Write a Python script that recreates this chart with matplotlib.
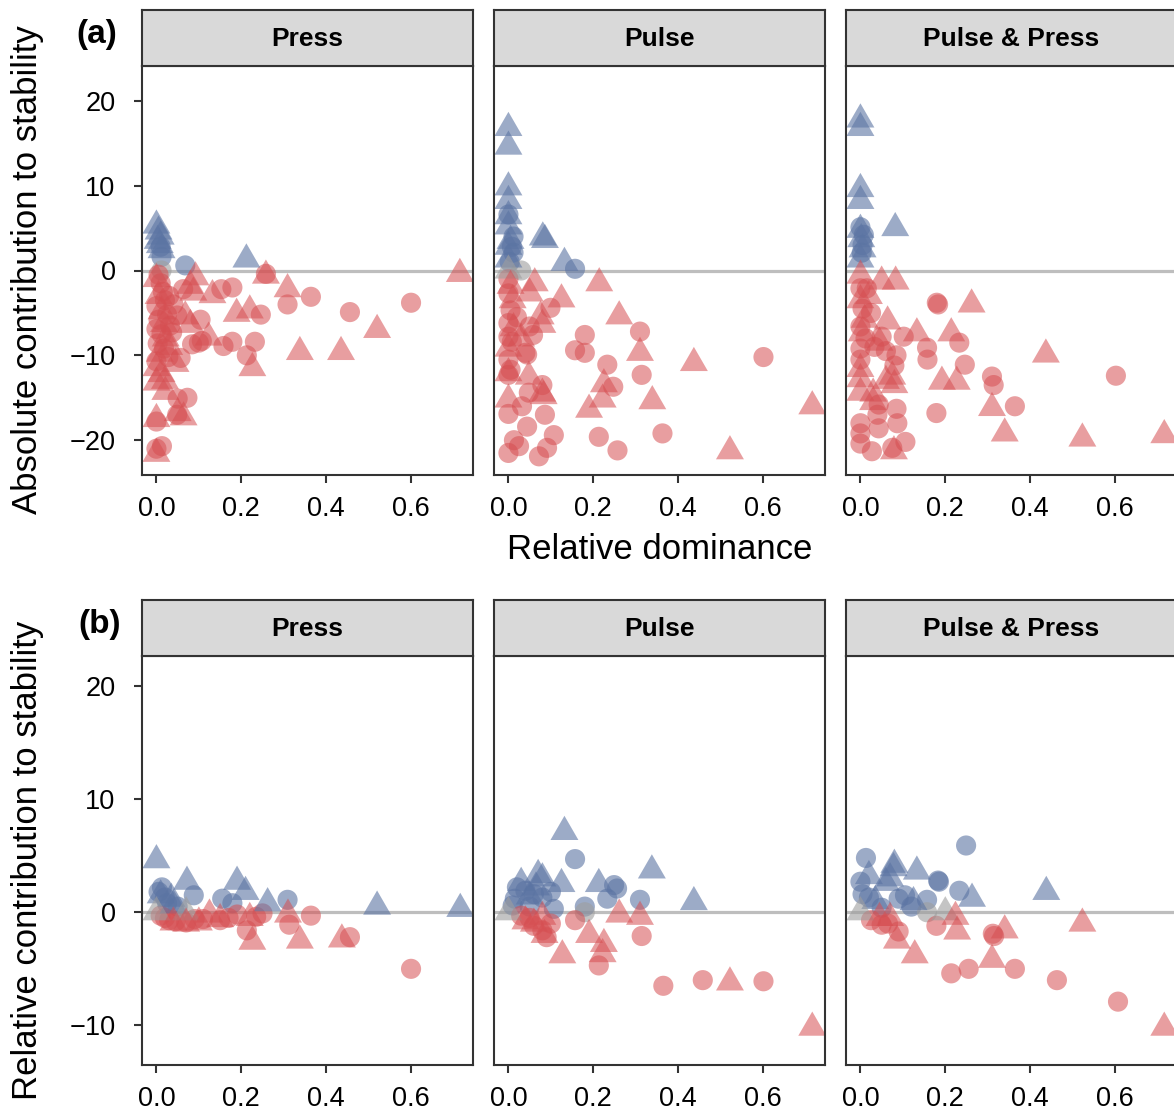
import numpy as np
import matplotlib
matplotlib.use("Agg")
import matplotlib.pyplot as plt

plt.rcParams['font.family'] = ['Liberation Sans', 'DejaVu Sans']

# facets
treatments = ['Press', 'Pulse', 'Pulse & Press']

# (relative dominance, contribution, shape)  c = circle, t = triangle
press_abs = [
    (0.000, 5.3, 't'), (0.005, 4.6, 't'), (0.010, 4.0, 't'), (0.003, 3.5, 't'), (0.008, 3.0, 't'),
    (0.012, 2.4, 't'), (0.010, 2.8, 'c'), (0.012, 1.6, 'c'), (0.068, 0.6, 'c'), (0.212, 1.3, 't'),
    (0.012, 0.0, 'c'),
    (0.715, -0.4, 't'), (0.600, -3.8, 'c'), (0.520, -7.0, 't'), (0.435, -9.6, 't'), (0.338, -9.6, 't'),
    (0.456, -4.9, 'c'), (0.364, -3.1, 'c'), (0.309, -4.0, 'c'), (0.309, -2.2, 't'), (0.258, -0.6, 't'),
    (0.258, -0.4, 'c'), (0.246, -5.2, 'c'), (0.226, -11.5, 't'), (0.213, -10.0, 'c'), (0.232, -8.4, 'c'),
    (0.220, -4.7, 't'), (0.189, -5.1, 't'), (0.179, -8.4, 'c'), (0.158, -8.9, 'c'), (0.179, -2.0, 'c'),
    (0.153, -2.2, 'c'), (0.132, -2.9, 't'), (0.104, -5.8, 'c'), (0.123, -7.9, 't'), (0.100, -8.5, 'c'),
    (0.057, -10.3, 'c'), (0.073, -15.0, 'c'), (0.050, -15.1, 'c'), (0.064, -17.3, 't'), (0.050, -16.8, 't'),
    (0.049, -17.0, 'c'), (0.021, -14.3, 't'), (0.020, -13.0, 't'), (0.000, -17.8, 'c'), (0.000, -17.5, 't'),
    (0.013, -20.7, 'c'), (0.000, -21.0, 'c'), (0.000, -21.6, 't'), (0.000, -13.2, 't'), (0.000, -10.7, 'c'),
    (0.063, -2.2, 'c'), (0.092, -0.8, 't'), (0.080, -1.8, 't'), (0.087, -2.6, 't'), (0.068, -5.4, 't'),
    (0.080, -6.4, 't'), (0.049, -5.3, 'c'), (0.037, -7.3, 'c'), (0.084, -8.7, 'c'), (0.107, -8.3, 'c'),
    (0.005, -0.5, 'c'), (0.010, -1.5, 'c'), (0.000, -1.0, 't'), (0.015, -2.5, 'c'), (0.005, -3.0, 't'),
    (0.020, -3.5, 'c'), (0.000, -4.2, 'c'), (0.012, -4.8, 't'), (0.025, -5.2, 'c'), (0.005, -5.8, 'c'),
    (0.018, -6.3, 't'), (0.000, -6.9, 'c'), (0.012, -7.5, 'c'), (0.022, -8.0, 't'), (0.003, -8.6, 'c'),
    (0.018, -9.2, 'c'), (0.008, -9.8, 't'), (0.028, -10.2, 'c'), (0.000, -11.5, 't'), (0.012, -12.2, 't'),
    (0.030, -3.0, 'c'), (0.032, -6.5, 'c'), (0.030, -9.0, 't'), (0.040, -4.0, 'c'), (0.045, -11.0, 't'),
]

pulse_abs = [
    (0.000, 16.8, 't'), (0.000, 14.6, 't'), (0.000, 9.8, 't'), (0.000, 8.2, 't'), (0.000, 6.4, 't'),
    (0.000, 5.2, 't'), (0.000, 6.6, 'c'), (0.012, 4.0, 'c'), (0.008, 2.8, 'c'), (0.012, 2.1, 'c'),
    (0.000, 2.8, 't'), (0.000, 1.3, 't'), (0.005, 3.5, 't'), (0.003, 1.0, 'c'), (0.081, 3.9, 't'),
    (0.086, 3.6, 't'), (0.132, 0.9, 't'), (0.157, 0.2, 'c'),
    (0.000, 0.0, 't'), (0.030, 0.0, 'c'),
    (0.214, -1.5, 't'), (0.261, -5.4, 't'), (0.310, -7.2, 'c'), (0.310, -9.7, 't'), (0.314, -12.3, 'c'),
    (0.437, -10.9, 't'), (0.601, -10.2, 'c'), (0.716, -16.0, 't'), (0.522, -21.3, 't'), (0.363, -19.2, 'c'),
    (0.339, -15.4, 't'), (0.257, -21.2, 'c'), (0.213, -19.6, 'c'), (0.190, -16.4, 't'), (0.222, -15.2, 't'),
    (0.247, -13.7, 'c'), (0.225, -13.4, 't'), (0.233, -11.1, 'c'), (0.180, -7.6, 'c'), (0.180, -9.7, 'c'),
    (0.157, -9.4, 'c'), (0.099, -4.4, 'c'), (0.125, -3.4, 't'), (0.062, -1.5, 't'), (0.050, -2.7, 't'),
    (0.076, -5.4, 't'), (0.080, -6.4, 't'), (0.050, -6.6, 'c'), (0.058, -7.6, 'c'), (0.044, -9.9, 'c'),
    (0.048, -12.5, 't'), (0.080, -13.5, 'c'), (0.080, -14.5, 't'), (0.083, -14.8, 't'), (0.048, -14.4, 'c'),
    (0.086, -17.0, 'c'), (0.032, -16.0, 'c'), (0.000, -15.2, 't'), (0.000, -16.9, 'c'), (0.044, -18.4, 'c'),
    (0.107, -19.4, 'c'), (0.013, -20.0, 'c'), (0.025, -20.7, 'c'), (0.000, -21.5, 'c'), (0.091, -20.9, 'c'),
    (0.072, -21.9, 'c'), (0.000, -1.0, 'c'), (0.005, -1.8, 't'), (0.000, -2.7, 'c'), (0.010, -3.5, 't'),
    (0.005, -4.7, 'c'), (0.000, -6.2, 'c'), (0.012, -6.8, 't'), (0.000, -7.8, 'c'), (0.008, -8.4, 'c'),
    (0.000, -9.2, 't'), (0.000, -10.5, 'c'), (0.005, -11.7, 'c'), (0.000, -12.3, 'c'), (0.000, -12.1, 't'),
    (0.040, -9.7, 'c'), (0.020, -5.5, 'c'), (0.030, -8.0, 't'),
]

both_abs = [
    (0.000, 17.8, 't'), (0.000, 16.8, 't'), (0.000, 9.6, 't'), (0.000, 8.2, 't'), (0.000, 4.8, 't'),
    (0.000, 5.1, 'c'), (0.002, 3.7, 't'), (0.005, 3.0, 'c'), (0.003, 2.1, 'c'), (0.000, 1.3, 't'),
    (0.008, 4.2, 'c'), (0.005, 2.5, 't'), (0.082, 5.0, 't'),
    (0.000, -0.6, 't'), (0.050, -1.3, 't'), (0.083, -1.3, 't'), (0.000, -2.1, 'c'), (0.015, -2.1, 'c'),
    (0.183, -4.0, 'c'), (0.180, -3.8, 'c'), (0.262, -4.0, 't'), (0.214, -7.4, 't'), (0.233, -8.5, 'c'),
    (0.133, -7.4, 't'), (0.102, -7.8, 'c'), (0.157, -9.1, 'c'), (0.158, -10.5, 'c'), (0.246, -11.1, 'c'),
    (0.064, -6.0, 't'), (0.050, -7.8, 'c'), (0.192, -13.1, 't'), (0.227, -13.1, 't'), (0.310, -12.5, 'c'),
    (0.314, -13.5, 'c'), (0.437, -9.9, 't'), (0.602, -12.4, 'c'), (0.716, -19.4, 't'), (0.523, -19.8, 't'),
    (0.340, -19.2, 't'), (0.310, -16.2, 't'), (0.364, -16.0, 'c'), (0.179, -16.8, 'c'), (0.106, -20.2, 'c'),
    (0.079, -21.3, 't'), (0.075, -20.9, 'c'), (0.027, -21.3, 'c'), (0.000, -20.4, 'c'), (0.000, -19.2, 'c'),
    (0.000, -18.0, 'c'), (0.043, -18.6, 'c'), (0.087, -18.0, 'c'), (0.085, -16.3, 'c'), (0.043, -15.8, 'c'),
    (0.000, -14.4, 't'), (0.000, -12.8, 't'), (0.000, -11.6, 't'), (0.000, -10.5, 'c'), (0.000, -9.2, 'c'),
    (0.033, -9.0, 'c'), (0.085, -10.0, 'c'), (0.080, -11.2, 'c'), (0.075, -12.5, 't'), (0.080, -13.5, 't'),
    (0.060, -13.0, 't'), (0.000, -3.5, 't'), (0.005, -4.5, 'c'), (0.010, -5.8, 't'), (0.000, -6.6, 'c'),
    (0.003, -7.4, 't'), (0.012, -8.0, 'c'), (0.020, -3.0, 't'), (0.025, -5.0, 'c'), (0.030, -14.5, 't'),
    (0.040, -17.0, 'c'), (0.030, -15.5, 't'), (0.045, -8.5, 't'), (0.060, -9.5, 'c'),
]

press_rel = [
    (0.000, 4.6, 't'), (0.013, 2.2, 'c'), (0.072, 2.7, 't'), (0.088, 1.5, 'c'), (0.190, 2.7, 't'),
    (0.210, 1.8, 't'), (0.155, 1.2, 'c'), (0.179, 0.8, 'c'), (0.262, 0.8, 't'), (0.309, 1.1, 'c'),
    (0.520, 0.5, 't'), (0.716, 0.3, 't'), (0.010, 1.5, 't'), (0.035, 1.2, 't'), (0.040, 0.6, 't'),
    (0.025, 0.8, 'c'), (0.050, 0.5, 'c'), (0.005, 1.8, 'c'), (0.020, 1.3, 'c'),
    (0.000, 0.0, 't'), (0.070, 0.0, 't'),
    (0.600, -5.0, 'c'), (0.456, -2.2, 'c'), (0.437, -2.4, 't'), (0.338, -2.5, 't'), (0.226, -2.6, 't'),
    (0.213, -1.6, 'c'), (0.313, -1.1, 'c'), (0.364, -0.3, 'c'), (0.310, -0.2, 't'), (0.250, -0.1, 'c'),
    (0.220, -0.5, 't'), (0.235, -0.4, 'c'), (0.170, -0.5, 'c'), (0.150, -0.7, 'c'), (0.190, -0.2, 'c'),
    (0.125, -0.2, 't'), (0.030, -0.7, 'c'), (0.070, -0.9, 'c'), (0.045, -0.8, 'c'), (0.090, -0.6, 'c'),
    (0.110, -0.6, 'c'), (0.040, -0.9, 't'), (0.070, -1.0, 't'), (0.100, -0.9, 't'), (0.150, -0.6, 't'),
    (0.010, -0.3, 'c'), (0.020, -0.5, 'c'),
]

pulse_rel = [
    (0.132, 7.1, 't'), (0.157, 4.7, 'c'), (0.338, 3.7, 't'), (0.437, 0.9, 't'), (0.249, 2.4, 'c'),
    (0.256, 2.1, 'c'), (0.213, 2.5, 't'), (0.233, 1.2, 'c'), (0.310, 1.1, 'c'), (0.180, 0.5, 'c'),
    (0.107, 0.3, 'c'), (0.125, 2.5, 't'), (0.070, 3.3, 't'), (0.080, 3.0, 't'), (0.030, 2.6, 't'),
    (0.020, 2.2, 'c'), (0.040, 1.9, 'c'), (0.015, 1.2, 'c'), (0.060, 1.6, 'c'), (0.080, 1.3, 'c'),
    (0.100, 1.8, 'c'), (0.050, 1.4, 't'), (0.065, 2.2, 't'), (0.010, 0.6, 'c'), (0.050, 0.5, 'c'),
    (0.000, 0.0, 't'), (0.180, 0.0, 'c'),
    (0.716, -10.2, 't'), (0.601, -6.1, 'c'), (0.522, -6.2, 't'), (0.458, -6.0, 'c'), (0.365, -6.5, 'c'),
    (0.213, -4.7, 'c'), (0.225, -2.8, 't'), (0.222, -3.7, 't'), (0.127, -3.8, 't'), (0.190, -2.0, 't'),
    (0.314, -2.1, 'c'), (0.310, -0.4, 't'), (0.261, -0.2, 't'), (0.157, -0.7, 'c'), (0.090, -2.2, 'c'),
    (0.085, -2.0, 't'), (0.060, -1.2, 'c'), (0.080, -1.6, 'c'), (0.050, -0.5, 'c'), (0.080, -0.4, 't'),
    (0.040, -0.8, 't'), (0.030, -0.3, 'c'), (0.060, -1.0, 't'), (0.100, -1.0, 'c'),
]

both_rel = [
    (0.249, 5.9, 'c'), (0.013, 4.8, 'c'), (0.080, 4.2, 't'), (0.078, 3.9, 't'), (0.133, 3.6, 't'),
    (0.183, 2.8, 'c'), (0.185, 2.7, 'c'), (0.233, 1.9, 'c'), (0.263, 1.2, 't'), (0.438, 1.8, 't'),
    (0.157, 1.1, 'c'), (0.000, 2.7, 'c'), (0.005, 1.6, 'c'), (0.020, 1.3, 'c'), (0.050, 0.4, 'c'),
    (0.090, 1.2, 'c'), (0.120, 0.5, 'c'), (0.105, 1.5, 'c'), (0.020, 3.2, 't'), (0.060, 2.6, 't'),
    (0.070, 3.0, 't'), (0.125, 0.9, 't'), (0.035, 1.0, 't'),
    (0.000, 0.0, 't'), (0.157, 0.0, 'c'), (0.200, 0.0, 't'),
    (0.716, -10.2, 't'), (0.607, -7.9, 'c'), (0.463, -6.0, 'c'), (0.523, -1.0, 't'), (0.364, -5.0, 'c'),
    (0.310, -4.2, 't'), (0.312, -1.9, 'c'), (0.315, -2.1, 'c'), (0.340, -1.6, 't'), (0.255, -5.0, 'c'),
    (0.214, -5.4, 'c'), (0.224, -0.4, 't'), (0.228, -1.7, 't'), (0.179, -1.2, 'c'), (0.128, -3.8, 't'),
    (0.086, -2.5, 't'), (0.090, -1.7, 'c'), (0.025, -0.7, 'c'), (0.050, -1.1, 'c'), (0.065, -1.0, 'c'),
    (0.070, -0.5, 't'), (0.045, -0.5, 't'),
]

abs_rows = [press_abs, pulse_abs, both_abs]
rel_rows = [press_rel, pulse_rel, both_rel]

W, H = 1174, 1111
fig = plt.figure(figsize=(W / 100, H / 100), dpi=100)

# equilateral triangle centred on its centroid
tri = [(-0.866, -0.5), (0.866, -0.5), (0.0, 1.0), (-0.866, -0.5)]

blue = (0.357, 0.455, 0.639, 0.6)
red = (0.84, 0.31, 0.32, 0.55)
grey = (0.62, 0.62, 0.62, 0.6)
frame = '#333333'

lefts = [142, 494, 846]
pw, ph, sh = 331, 409, 56


def colour(v):
    if v > 0:
        return blue
    if v < 0:
        return red
    return grey


def panel(col, top, data, ylim, yticks, title):
    x0 = lefts[col]
    ax = fig.add_axes([x0 / W, 1 - (top + ph) / H, pw / W, ph / H])
    st = fig.add_axes([x0 / W, 1 - top / H, pw / W, sh / H])
    st.set_facecolor('#D9D9D9')
    st.set_xticks([])
    st.set_yticks([])
    for s in st.spines.values():
        s.set_color(frame)
        s.set_linewidth(1.5)
    st.text(0.5, 0.48, title, ha='center', va='center', fontsize=19, fontweight='bold',
            transform=st.transAxes)

    ax.axhline(0, color='#BEBEBE', lw=2.3, zorder=1)
    for shp, mk, size in [('c', 'o', 210), ('t', tri, 540)]:
        pts = [p for p in data if p[2] == shp]
        xs = [p[0] for p in pts]
        ys = [p[1] for p in pts]
        ax.scatter(xs, ys, s=size, marker=mk, c=[colour(v) for v in ys], linewidths=0, zorder=2)

    ax.set_xlim(-0.034, 0.746)
    ax.set_ylim(*ylim)
    ax.set_xticks([0, 0.2, 0.4, 0.6])
    ax.set_xticklabels(['0.0', '0.2', '0.4', '0.6'])
    ax.set_yticks(yticks)
    for s in ax.spines.values():
        s.set_color(frame)
        s.set_linewidth(1.5)
    ax.tick_params(axis='both', length=6, width=1.5, color=frame, labelsize=19.5, labelcolor='black')
    ax.tick_params(axis='x', pad=9)
    ax.tick_params(axis='y', pad=13)
    if col > 0:
        ax.tick_params(axis='y', left=False, labelleft=False)
    return ax


for i, t in enumerate(treatments):
    panel(i, 66, abs_rows[i], (-24.1, 24.1), [-20, -10, 0, 10, 20], t)
    panel(i, 656, rel_rows[i], (-13.5, 22.65), [-10, 0, 10, 20], t)

fig.text(28 / W, 1 - 270 / H, 'Absolute contribution to stability', rotation=90,
         ha='center', va='center', fontsize=25)
fig.text(28 / W, 1 - 860 / H, 'Relative contribution to stability', rotation=90,
         ha='center', va='center', fontsize=25)
fig.text(660 / W, 1 - 549 / H, 'Relative dominance', ha='center', va='center', fontsize=25)
fig.text(97 / W, 1 - 35 / H, '(a)', ha='center', va='center', fontsize=24, fontweight='bold')
fig.text(100 / W, 1 - 625 / H, '(b)', ha='center', va='center', fontsize=24, fontweight='bold')

fig.savefig('out.png', dpi=100)
